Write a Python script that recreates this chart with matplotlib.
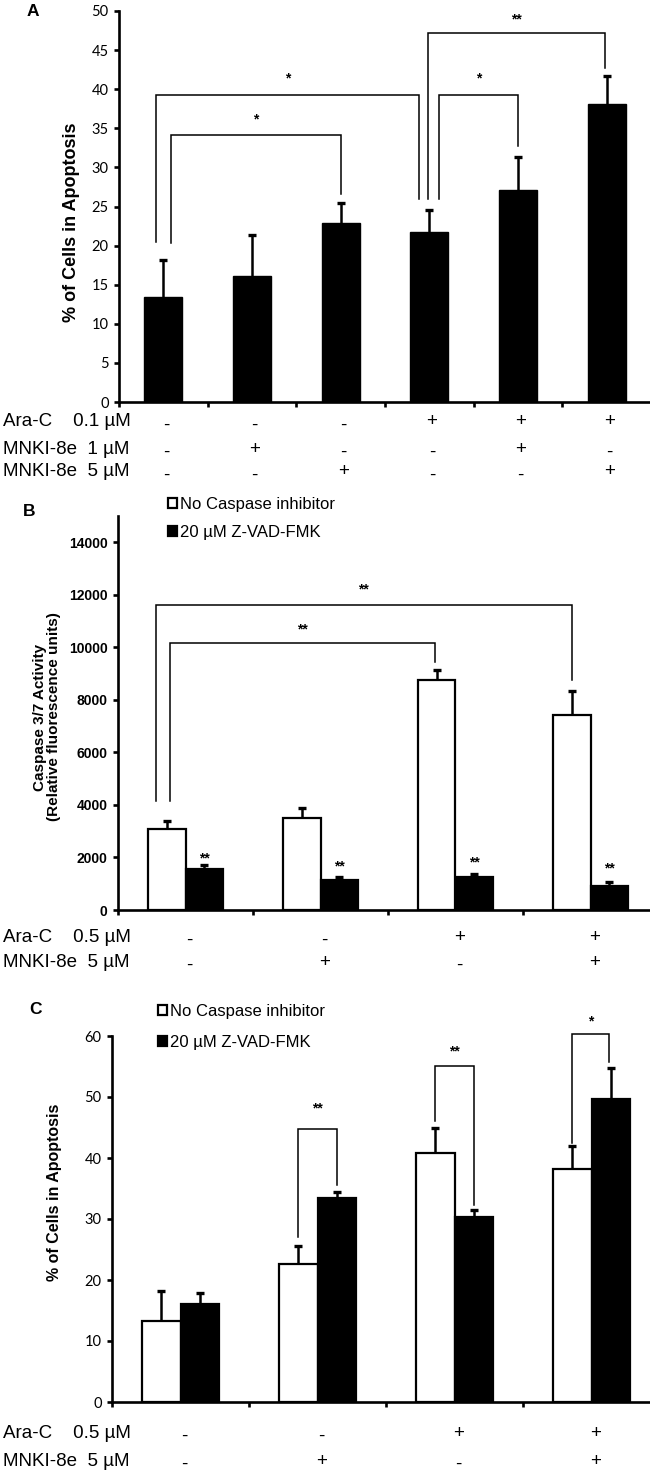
import numpy as np
import matplotlib
matplotlib.use("Agg")
import matplotlib.pyplot as plt
from matplotlib.transforms import blended_transform_factory

# ---- Panel A: % apoptosis, single series
a_mean = [13.4, 16.1, 22.9, 21.7, 27.1, 38.1]
a_err = [4.7, 5.3, 2.5, 2.8, 4.2, 3.6]
a_rows = ["Ara-C    0.1 µM", "MNKI-8e  1 µM", "MNKI-8e  5 µM"]
a_signs = [["-", "-", "-", "+", "+", "+"],
           ["-", "+", "-", "-", "+", "-"],
           ["-", "-", "+", "-", "-", "+"]]
# bracket: x left, x right, top, left foot, right foot, text, text y
a_brackets = [(0.09, 2.0, 34.2, 20.3, 26.6, "*", 35.2),
              (-0.08, 2.88, 39.2, 20.4, 26.0, "*", 40.5),
              (3.11, 4.0, 39.2, 26.0, 32.7, "*", 40.5),
              (2.99, 4.98, 47.2, 26.0, 42.7, "**", 48.0)]

# ---- Panel B: caspase 3/7 activity
b_none = [3100, 3490, 8740, 7430]
b_none_err = [275, 395, 380, 925]
b_zvad = [1570, 1150, 1270, 920]
b_zvad_err = [150, 90, 100, 165]
b_rows = ["Ara-C    0.5 µM", "MNKI-8e  5 µM"]
b_signs = [["-", "-", "+", "+"],
           ["-", "+", "-", "+"]]
b_brackets = [(-0.115, 1.85, 10150, 4140, 9430, "**", 10400),
              (-0.22, 2.86, 11600, 4140, 8760, "**", 11950)]
b_star_y = [1700, 1400, 1530, 1300]

# ---- Panel C: % apoptosis with / without caspase inhibitor
c_none = [13.3, 22.7, 40.9, 38.2]
c_none_err = [4.9, 2.8, 4.1, 3.8]
c_zvad = [16.0, 33.5, 30.4, 49.6]
c_zvad_err = [1.8, 1.0, 1.0, 5.1]
c_rows = ["Ara-C    0.5 µM", "MNKI-8e  5 µM"]
c_signs = [["-", "-", "+", "+"],
           ["-", "+", "-", "+"]]
c_brackets = [(0.86, 1.14, 44.7, 27.0, 35.6, "**", 47.0),
              (1.86, 2.14, 55.1, 46.1, 32.3, "**", 56.3),
              (2.86, 3.13, 60.3, 42.5, 55.8, "*", 61.3)]

legend_labels = ["No Caspase inhibitor", "20 µM Z-VAD-FMK"]

W, H = 650, 1476
fig = plt.figure(figsize=(W / 100, H / 100), dpi=100)

ARIAL = ["Liberation Sans", "DejaVu Sans"]
TICKF = ["Lato", "DejaVu Sans"]


def fy(py):
    return 1 - py / H


def style_axis(ax):
    for s in ("top", "right"):
        ax.spines[s].set_visible(False)
    for s in ("left", "bottom"):
        ax.spines[s].set_linewidth(1.9)
    ax.tick_params(axis="y", direction="out", length=3.5, width=1.9, pad=4)
    ax.tick_params(axis="x", direction="out", length=3.5, width=1.9, labelbottom=False)


def upper_err(ax, x, y, err):
    # error bars drawn only upwards, lower cap hidden
    cont = ax.errorbar(x, y, yerr=[[0] * len(err), err], fmt="none", ecolor="black",
                       elinewidth=1.8, capsize=3, capthick=2.4)
    for cap in cont.lines[1]:
        if np.allclose(cap.get_ydata(), y):
            cap.set_visible(False)


def bracket(ax, xl, xr, top, yl, yr, txt, ty, fs=10):
    ax.plot([xl, xl, xr, xr], [yl, top, top, yr], color="black", lw=1.1,
            clip_on=False, solid_joinstyle="miter")
    ax.text((xl + xr) / 2, ty, txt, ha="center", va="bottom", fontsize=fs,
            family=ARIAL, fontweight="bold", clip_on=False)


def table(ax, rows, signs, ys, fs=13.5):
    tr = blended_transform_factory(ax.transData, fig.transFigure)
    for label, row, py in zip(rows, signs, ys):
        fig.text(0.004, fy(py), label, ha="left", va="center", fontsize=fs, family=ARIAL)
        for i, s in enumerate(row):
            off = 3 if s == "-" else 0
            ax.text(i + 0.03, fy(py + off), s, transform=tr, ha="center", va="center",
                    fontsize=fs, family=ARIAL)


def legend(ax, px, py, spacing):
    ax.legend(loc="upper left", bbox_to_anchor=(px / W, fy(py)),
              bbox_transform=fig.transFigure, frameon=False, handlelength=0.55,
              handleheight=0.55, handletextpad=0.2, labelspacing=spacing,
              prop={"family": ARIAL, "size": 12}, borderpad=0, borderaxespad=0)


# ======== Panel A
axA = fig.add_axes([119 / W, fy(402), 532 / W, 391 / H])
xa = list(range(len(a_mean)))
axA.bar(xa, a_mean, width=0.43, color="black", edgecolor="black")
upper_err(axA, xa, a_mean, a_err)
axA.set_xlim(-0.5, 5.5)
axA.set_ylim(0, 50)
axA.set_yticks(range(0, 51, 5))
axA.set_xticks([i + 0.5 for i in range(-1, 6)])
style_axis(axA)
for t in axA.get_yticklabels():
    t.set_family(TICKF)
    t.set_fontsize(10.5)
axA.set_ylabel("% of Cells in Apoptosis", fontsize=13, fontweight="bold",
               family=ARIAL, va="center")
axA.yaxis.set_label_coords((71 - 119) / 532, 0.46)
for b in a_brackets:
    bracket(axA, *b)
fig.text(33 / W, fy(12), "A", fontsize=12.5, fontweight="bold", family=ARIAL,
         ha="center", va="center")
table(axA, a_rows, a_signs, [422, 449, 472])

# ======== Panel B
axB = fig.add_axes([118 / W, fy(910), 540 / W, 394 / H])
xb = list(range(len(b_none)))
bw = 0.28
axB.bar([x - bw / 2 for x in xb], b_none, width=bw, color="white", edgecolor="black",
        linewidth=1.6, label=legend_labels[0])
axB.bar([x + bw / 2 for x in xb], b_zvad, width=bw, color="black", edgecolor="black",
        linewidth=1.6, label=legend_labels[1])
upper_err(axB, [x - bw / 2 for x in xb], b_none, b_none_err)
upper_err(axB, [x + bw / 2 for x in xb], b_zvad, b_zvad_err)
axB.set_xlim(-0.5, 3.5)
axB.set_ylim(0, 15000)
axB.set_yticks(range(0, 14001, 2000))
axB.set_xticks([i + 0.5 for i in range(-1, 4)])
style_axis(axB)
for t in axB.get_yticklabels():
    t.set_family(ARIAL)
    t.set_fontweight("bold")
    t.set_fontsize(10)
axB.set_ylabel("Caspase 3/7 Activity\n(Relative fluorescence units)", fontsize=11,
               fontweight="bold", family=ARIAL, linespacing=1.05, va="center")
axB.yaxis.set_label_coords((47 - 118) / 540, 0.49)
for b in b_brackets:
    bracket(axB, *b)
for x, y in zip(xb, b_star_y):
    axB.text(x + bw / 2, y, "**", ha="center", va="bottom", fontsize=10,
             fontweight="bold", family=ARIAL)
fig.text(29 / W, fy(511), "B", fontsize=12.5, fontweight="bold", family=ARIAL,
         ha="center", va="center")
legend(axB, 168, 497, 0.75)
table(axB, b_rows, b_signs, [937, 962])

# ======== Panel C
axC = fig.add_axes([112 / W, fy(1402), 548 / W, 366 / H])
xc = list(range(len(c_none)))
axC.bar([x - bw / 2 for x in xc], c_none, width=bw, color="white", edgecolor="black",
        linewidth=1.6, label=legend_labels[0])
axC.bar([x + bw / 2 for x in xc], c_zvad, width=bw, color="black", edgecolor="black",
        linewidth=1.6, label=legend_labels[1])
upper_err(axC, [x - bw / 2 for x in xc], c_none, c_none_err)
upper_err(axC, [x + bw / 2 for x in xc], c_zvad, c_zvad_err)
axC.set_xlim(-0.5, 3.5)
axC.set_ylim(0, 60)
axC.set_yticks(range(0, 61, 10))
axC.set_xticks([i + 0.5 for i in range(-1, 4)])
style_axis(axC)
for t in axC.get_yticklabels():
    t.set_family(TICKF)
    t.set_fontsize(10.5)
axC.set_ylabel("% of Cells in Apoptosis", fontsize=11.5, fontweight="bold",
               family=ARIAL, va="center")
axC.yaxis.set_label_coords((55 - 112) / 548, 0.574)
for b in c_brackets:
    bracket(axC, *b)
fig.text(35 / W, fy(1010), "C", fontsize=12.5, fontweight="bold", family=ARIAL,
         ha="center", va="center")
legend(axC, 158, 1004, 0.95)
table(axC, c_rows, c_signs, [1433, 1461])

fig.savefig("out.png", dpi=100)
